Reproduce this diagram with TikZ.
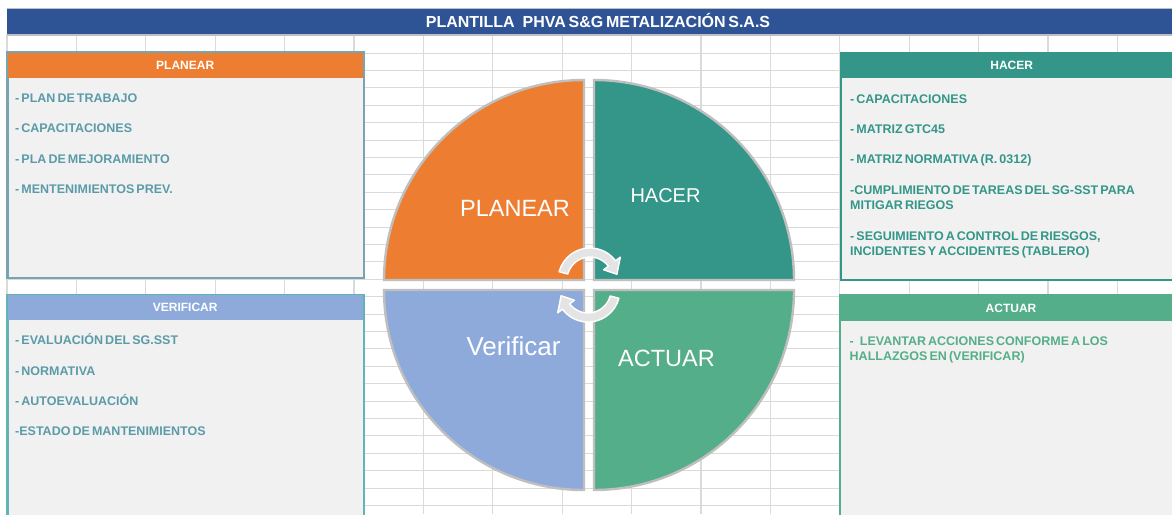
\documentclass[tikz,border=0pt]{standalone}
\usepackage{fontspec}
\setmainfont{Liberation Sans}
\newfontfamily\tightfont{Liberation Sans}[WordSpace=0.6]
\usetikzlibrary{calc}
\definecolor{titleblue}{RGB}{47,84,150}
\definecolor{gridgray}{RGB}{218,218,218}
\definecolor{qorange}{RGB}{237,125,49}
\definecolor{qteal}{RGB}{51,150,136}
\definecolor{qblue}{RGB}{142,170,219}
\definecolor{qgreen}{RGB}{85,174,138}
\definecolor{qline}{RGB}{191,191,191}
\definecolor{bodyfill}{RGB}{241,241,241}
\definecolor{txtcadet}{RGB}{91,155,168}
\definecolor{planborder}{RGB}{118,164,176}
\definecolor{verborder}{RGB}{96,180,180}
\definecolor{arrowgray}{RGB}{228,228,228}
\tikzset{
  gridline/.style={draw=gridgray, line width=1.1pt},
  quad/.style={draw=qline, line width=2.4pt},
  headbox/.style={anchor=north west, inner sep=0pt, minimum height=25.5pt, font=\tightfont\bfseries\fontsize{12}{14}\selectfont, text=white},
  bodybox/.style={anchor=north west, inner sep=0pt, fill=bodyfill},
  itemtxt/.style={anchor=base west, inner sep=0pt, font=\tightfont\bfseries\fontsize{12.5}{14}\selectfont},
  biglabel/.style={text=white, inner sep=0pt, font=\fontsize{23.5}{26}\selectfont},
  cyclearrow/.style={fill=arrowgray, draw=white, line width=1.4pt, line join=round}
}
\begin{document}
\begin{tikzpicture}[x=1pt,y=1pt]
\useasboundingbox (0,0) rectangle (1172,-514);
\fill[white] (0,0) rectangle (1172,-514);
% spreadsheet grid
\foreach \k in {0,...,27} \draw[gridline] (7,{-35.7-17.4*\k}) -- (1172,{-35.7-17.4*\k});
\foreach \k in {0,...,16} \draw[gridline] ({7+69.4*\k},-34) -- ({7+69.4*\k},-514);
% title bar
\fill[titleblue] (7,-8.3) rectangle (1172,-33.5);
\draw[qline, line width=1pt] (7,-8.3) -- (1172,-8.3);
\draw[qline, line width=2pt] (7,-34.5) -- (1172,-34.5);
\node[text=white, inner sep=0pt, font=\tightfont\bfseries\fontsize{16}{18}\selectfont] (title) at (598,-20.5)
  {PLANTILLA\hspace{8pt}PHVA S\&G METALIZACIÓN S.A.S};

% PLANEAR box
\node[bodybox, draw=planborder, line width=1.6pt, minimum width=356pt, minimum height=225pt] (planbody) at (7,-52) {};
\node[headbox, fill=qorange, minimum width=356pt] (planhead) at (7,-52) {PLANEAR};
\draw[planborder, line width=1.6pt] (planbody.north west) rectangle (planbody.south east);
\begin{scope}[every node/.style={itemtxt, text=txtcadet}]
\node (p1) at (15,-102.7) {- PLAN DE TRABAJO};
\node (p2) at (15,-132.5) {- CAPACITACIONES};
\node (p3) at (15,-163) {- PLA DE MEJORAMIENTO};
\node (p4) at (15,-193) {- MENTENIMIENTOS PREV.};
\end{scope}

% VERIFICAR box
\node[bodybox, draw=verborder, line width=1.6pt, minimum width=356pt, minimum height=230pt] (verbody) at (7,-294.3) {};
\node[headbox, fill=qblue, minimum width=356pt] (verhead) at (7,-294.3) {VERIFICAR};
\draw[verborder, line width=1.6pt] (verbody.north west) rectangle (verbody.south east);
\begin{scope}[every node/.style={itemtxt, text=txtcadet}]
\node (v1) at (15,-344.3) {- EVALUACIÓN DEL SG.SST};
\node (v2) at (15,-375) {- NORMATIVA};
\node (v3) at (15,-405) {- AUTOEVALUACIÓN};
\node (v4) at (15,-435) {-ESTADO DE MANTENIMIENTOS};
\end{scope}

% HACER box
\node[bodybox, draw=qteal, line width=1.6pt, minimum width=342pt, minimum height=226pt] (hacbody) at (840.5,-52.5) {};
\node[headbox, fill=qteal, minimum width=342pt] (hachead) at (840.5,-52.5) {HACER};
\draw[qteal, line width=1.6pt] (hacbody.north west) rectangle (hacbody.south east);
\begin{scope}[every node/.style={itemtxt, text=qteal}]
\node (h1) at (850,-103.3) {- CAPACITACIONES};
\node (h2) at (850,-133.3) {- MATRIZ GTC45};
\node (h3) at (850,-163.3) {- MATRIZ NORMATIVA (R. 0312)};
\node (h4) at (850,-194) {-CUMPLIMIENTO DE TAREAS DEL SG-SST PARA};
\node (h5) at (850,-209.3) {MITIGAR RIEGOS};
\node (h6) at (850,-240) {- SEGUIMIENTO A CONTROL DE RIESGOS,};
\node (h7) at (850,-255.7) {INCIDENTES Y ACCIDENTES (TABLERO)};
\end{scope}

% ACTUAR box
\node[bodybox, draw=qgreen, line width=1.6pt, minimum width=342pt, minimum height=230pt] (actbody) at (839.8,-295) {};
\node[headbox, fill=qgreen, minimum width=342pt] (acthead) at (839.8,-295) {ACTUAR};
\draw[qgreen, line width=1.6pt] (actbody.north west) rectangle (actbody.south east);
\begin{scope}[every node/.style={itemtxt, text=qgreen}]
\node (a1) at (849.5,-345) {-\hspace{6pt}LEVANTAR ACCIONES CONFORME A LOS};
\node (a2) at (849.5,-360) {HALLAZGOS EN (VERIFICAR)};
\end{scope}

% PHVA circle quadrants
\filldraw[quad, fill=qorange] (584,-280) -- (384,-280) arc[start angle=180, end angle=90, radius=200] -- cycle;
\filldraw[quad, fill=qteal] (594,-280) -- (594,-80) arc[start angle=90, end angle=0, radius=200] -- cycle;
\filldraw[quad, fill=qblue] (584,-290) -- (384,-290) arc[start angle=180, end angle=270, radius=200] -- cycle;
\filldraw[quad, fill=qgreen] (594,-290) -- (794,-290) arc[start angle=0, end angle=-90, radius=200] -- cycle;

\node[biglabel] (lplan) at (515,-208) {PLANEAR};
\node[biglabel, font=\fontsize{20}{23}\selectfont] (lhac) at (665.5,-196) {HACER};
\node[biglabel, font=\fontsize{26}{29}\selectfont] (lver) at (513.5,-346) {Verificar};
\node[biglabel] (lact) at (666.5,-358) {ACTUAR};

% cycle arrows
\begin{scope}[shift={(590,-280)}]
\filldraw[cyclearrow] (165:23) arc[start angle=165, end angle=37, radius=23] -- (37:17) -- (12:27.5) -- (37:38) -- (37:32) arc[start angle=37, end angle=165, radius=32] -- cycle;
\end{scope}
\begin{scope}[shift={(588,-290)}, rotate=180]
\filldraw[cyclearrow] (165:23) arc[start angle=165, end angle=37, radius=23] -- (37:17) -- (12:27.5) -- (37:38) -- (37:32) arc[start angle=37, end angle=165, radius=32] -- cycle;
\end{scope}
\end{tikzpicture}
\end{document}
